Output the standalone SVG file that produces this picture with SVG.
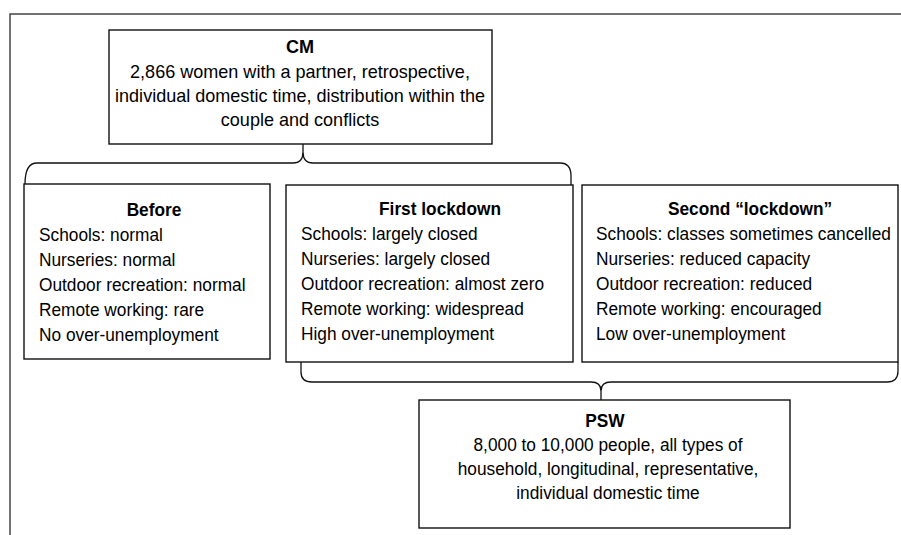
<svg xmlns="http://www.w3.org/2000/svg" width="901" height="535" viewBox="0 0 901 535">
<style>
  .frame { fill: none; stroke: #444; stroke-width: 1.5; }
  .box { fill: #fff; stroke: #111; stroke-width: 1.4; }
  .conn { fill: none; stroke: #111; stroke-width: 1.3; }
  text { font-family: "Liberation Sans", Arial, sans-serif; font-size: 18.5px; fill: #000; }
  .t { font-weight: bold; text-anchor: middle; }
  .c { text-anchor: middle; }
  .big { font-size: 19px; }
</style>
<rect width="901" height="535" fill="#fff"/>
<path class="frame" d="M10,535 L10,14 L901,14"/>

<g id="connectors">
  <path class="conn" d="M25,184 Q25,163 37,163 L293,163 Q303,163 303,152 L303,144 M303,152 Q303,163 313,163 L560,163 Q571,163 571,176 L571,186"/>
  <path class="conn" d="M301,362 L301,372 Q301,382 312,382 L591,382 Q601,382 601,391 L601,400 M601,391 Q601,382 611,382 L887,382 Q898,382 898,371 L898,362"/>
</g>

<g id="node-cm">
  <rect class="box" x="109" y="30" width="383" height="114"/>
  <text class="t big" transform="translate(300,53) scale(0.95,1)">CM</text>
  <text class="c big" transform="translate(300,78) scale(0.95,1)">2,866 women with a partner, retrospective,</text>
  <text class="c big" transform="translate(300,102) scale(0.95,1)">individual domestic time, distribution within the</text>
  <text class="c big" transform="translate(300,126) scale(0.95,1)">couple and conflicts</text>
</g>

<g id="node-before">
  <rect class="box" x="24" y="184" width="246" height="175"/>
  <text class="t" transform="translate(154,216) scale(0.935,1)">Before</text>
  <text transform="translate(39,241) scale(0.935,1)">Schools: normal</text>
  <text transform="translate(39,266) scale(0.935,1)">Nurseries: normal</text>
  <text transform="translate(39,291) scale(0.935,1)">Outdoor recreation: normal</text>
  <text transform="translate(39,316) scale(0.935,1)">Remote working: rare</text>
  <text transform="translate(39,341) scale(0.935,1)">No over-unemployment</text>
</g>

<g id="node-first">
  <rect class="box" x="286" y="185" width="287" height="177"/>
  <text class="t" transform="translate(440,215) scale(0.935,1)">First lockdown</text>
  <text transform="translate(301,240) scale(0.935,1)">Schools: largely closed</text>
  <text transform="translate(301,265) scale(0.935,1)">Nurseries: largely closed</text>
  <text transform="translate(301,290) scale(0.935,1)">Outdoor recreation: almost zero</text>
  <text transform="translate(301,315) scale(0.935,1)">Remote working: widespread</text>
  <text transform="translate(301,340) scale(0.935,1)">High over-unemployment</text>
</g>

<g id="node-second">
  <rect class="box" x="582" y="185" width="316" height="177"/>
  <text class="t" transform="translate(750,215) scale(0.935,1)">Second “lockdown”</text>
  <text transform="translate(596,240) scale(0.935,1)">Schools: classes sometimes cancelled</text>
  <text transform="translate(596,265) scale(0.935,1)">Nurseries: reduced capacity</text>
  <text transform="translate(596,290) scale(0.935,1)">Outdoor recreation: reduced</text>
  <text transform="translate(596,315) scale(0.935,1)">Remote working: encouraged</text>
  <text transform="translate(596,340) scale(0.935,1)">Low over-unemployment</text>
</g>

<g id="node-psw">
  <rect class="box" x="419" y="400" width="371" height="128"/>
  <text class="t" transform="translate(605,427) scale(0.935,1)">PSW</text>
  <text class="c" transform="translate(608,451) scale(0.935,1)">8,000 to 10,000 people, all types of</text>
  <text class="c" transform="translate(608,475) scale(0.935,1)">household, longitudinal, representative,</text>
  <text class="c" transform="translate(608,499) scale(0.935,1)">individual domestic time</text>
</g>
</svg>
